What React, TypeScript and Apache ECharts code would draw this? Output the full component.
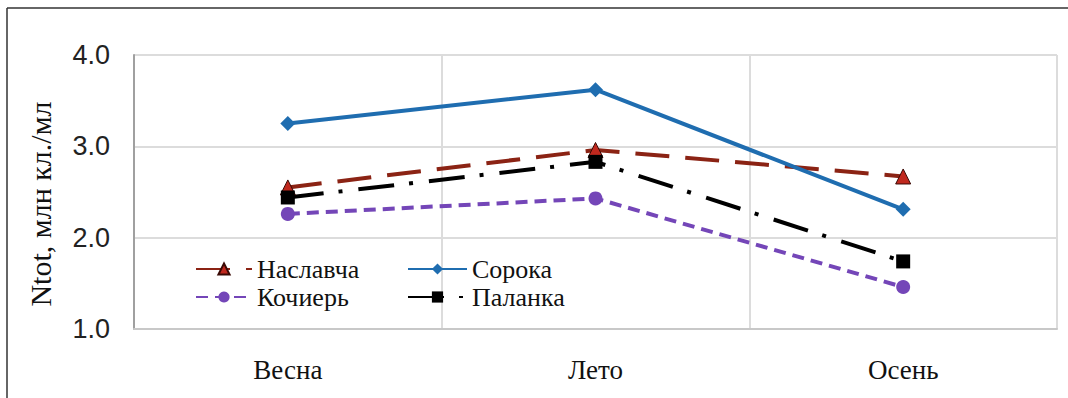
import React, { useEffect, useRef } from "react";
import * as echarts from "echarts";

const categories = ["Весна", "Лето", "Осень"];
const seriesNames = ["Наславча", "Сорока", "Кочиерь", "Паланка"];
const naslavcha = [2.55, 2.96, 2.67];
const soroka = [3.25, 3.62, 2.31];
const kochier = [2.26, 2.43, 1.46];
const palanka = [2.44, 2.83, 1.74];
const yTicks = [1, 2, 3, 4];
const yAxisTitle = "Ntot, млн кл./мл";

export default function App() {
  const ref = useRef<HTMLDivElement>(null);
  useEffect(() => {
    if (!ref.current) return;
    const chart = echarts.init(ref.current, undefined, { renderer: "svg" });
    const serif = "'Liberation Serif', 'DejaVu Serif', serif";
    const sans = "'Liberation Sans', Arial, sans-serif";
    const legendText = {
      fontFamily: serif,
      fontSize: 26,
      color: "#111",
      rich: { s: { fontFamily: serif, fontSize: 26, color: "#111" } },
    };
    const legendFormatter = (name: string) => "{s|" + name + "}";
    chart.setOption({
      animation: false,
      backgroundColor: "#fff",
      textStyle: { fontFamily: serif },
      grid: { left: 134, right: 11, top: 55, bottom: 69 },
      xAxis: {
        type: "category",
        data: categories,
        boundaryGap: true,
        axisLine: { lineStyle: { color: "#c8c8c8", width: 2 } },
        axisTick: { show: false },
        splitLine: { show: true, lineStyle: { color: "#dcdcdc", width: 2 } },
        axisLabel: { fontFamily: serif, fontSize: 27, color: "#111", margin: 27 },
      },
      yAxis: {
        type: "value",
        min: yTicks[0],
        max: yTicks[yTicks.length - 1],
        interval: 1,
        axisLine: { show: true, lineStyle: { color: "#a0a0a0", width: 2 } },
        axisTick: { show: false },
        splitLine: { lineStyle: { color: "#dcdcdc", width: 2 } },
        axisLabel: {
          fontFamily: sans,
          fontSize: 27,
          color: "#222",
          margin: 24,
          formatter: (v: number) => v.toFixed(1),
        },
      },
      legend: [
        {
          data: [seriesNames[0], seriesNames[2]],
          orient: "vertical",
          left: 190,
          top: 251,
          itemWidth: 56,
          itemHeight: 14,
          itemGap: 2,
          formatter: legendFormatter,
          textStyle: legendText,
        },
        {
          data: [seriesNames[1], seriesNames[3]],
          orient: "vertical",
          left: 402,
          top: 251,
          itemWidth: 59,
          itemHeight: 14,
          itemGap: 2,
          formatter: legendFormatter,
          textStyle: legendText,
        },
      ],
      graphic: [
        {
          type: "line",
          shape: { x1: 7, y1: 8, x2: 1068, y2: 8 },
          style: { stroke: "#333", lineWidth: 1.5 },
        },
        {
          type: "line",
          shape: { x1: 7, y1: 8, x2: 7, y2: 398 },
          style: { stroke: "#333", lineWidth: 1.5 },
        },
        {
          type: "text",
          x: 40,
          y: 204,
          rotation: Math.PI / 2,
          style: {
            text: yAxisTitle,
            fontFamily: serif,
            fontSize: 30,
            fill: "#111",
            align: "center",
            verticalAlign: "middle",
          },
        },
      ],
      series: [
        {
          name: seriesNames[0],
          type: "line",
          data: naslavcha,
          symbol: "triangle",
          symbolSize: 15,
          itemStyle: { color: "#c0281e", borderColor: "#3a0a05", borderWidth: 1 },
          lineStyle: { color: "#8b2314", width: 4, type: [34, 16] },
          z: 3,
        },
        {
          name: seriesNames[1],
          type: "line",
          data: soroka,
          symbol: "diamond",
          symbolSize: 15,
          itemStyle: { color: "#1f6db0" },
          lineStyle: { color: "#1f6db0", width: 4, type: "solid" },
          z: 4,
        },
        {
          name: seriesNames[2],
          type: "line",
          data: kochier,
          symbol: "circle",
          symbolSize: 14,
          itemStyle: { color: "#7446b8" },
          lineStyle: { color: "#7446b8", width: 4, type: [12, 7] },
          z: 3,
        },
        {
          name: seriesNames[3],
          type: "line",
          data: palanka,
          symbol: "rect",
          symbolSize: 14,
          itemStyle: { color: "#000" },
          lineStyle: { color: "#000", width: 4, type: [36, 15, 4, 16] },
          z: 3,
        },
      ],
    });
    return () => chart.dispose();
  }, []);
  return (
    <div
      ref={ref}
      style={{ position: "absolute", left: 0, top: 0, width: 1068, height: 398 }}
    />
  );
}
